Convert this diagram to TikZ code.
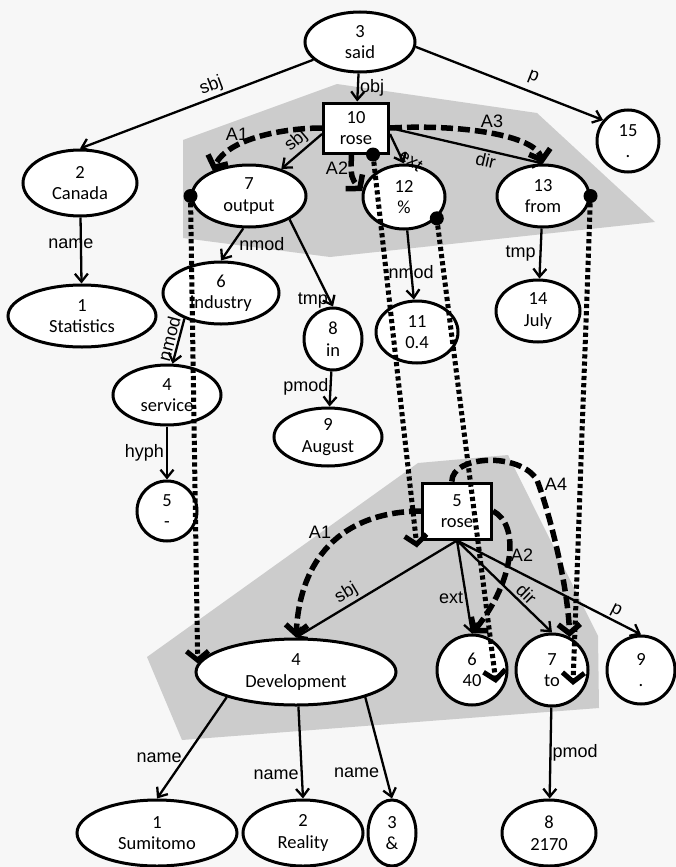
\documentclass[tikz,border=0pt]{standalone}
\usepackage{fontspec}
\setmainfont{Liberation Sans}
\newfontfamily\nodefont{Carlito}
\usetikzlibrary{shapes.geometric,arrows.meta,calc}
\definecolor{paper}{RGB}{247,247,247}
\definecolor{framegray}{RGB}{204,204,204}
\begin{document}
\begin{tikzpicture}[x=1pt,y=-1pt,
  wnode/.style={draw, line width=3pt, fill=white, inner sep=0pt, align=center,
                font=\nodefont\fontsize{18.5}{21.5}\selectfont},
  oval/.style={wnode, ellipse},
  box/.style={wnode, rectangle},
  dep/.style={line width=2.3pt, -{Straight Barb[length=8pt,width=13pt]}},
  lbl/.style={font=\fontsize{18}{20}\selectfont, inner sep=2pt},
  arg/.style={line width=5.5pt, dash pattern=on 12pt off 5pt,
              -{Straight Barb[length=9pt,width=22pt]}},
  link/.style={line width=5pt, dash pattern=on 4.2pt off 3pt,
               -{Straight Barb[length=9pt,width=22pt]}},
  anchordot/.style={circle, fill=black, minimum size=14pt, inner sep=0pt},
]
\useasboundingbox (0,0) rectangle (676,867);
\fill[paper] (0,0) rectangle (676,867);

% shaded regions of the two predicate frames
\fill[framegray] (183,140) -- (337,84) -- (537,113) -- (655,222) -- (330,257) -- (183,238) -- cycle;
\fill[framegray] (418,463) -- (508,455) -- (598,636) -- (599,708) -- (182,740) -- (147,657) -- cycle;

% upper tree
\node[oval, minimum width=110pt, minimum height=60pt] (said) at (360,42) {3\\said};
\node[box, minimum width=65pt, minimum height=50pt] (roseA) at (356,128) {10\\rose};
\node[oval, minimum size=62pt] (n15) at (628,141) {15\\.};
\node[oval, minimum width=114pt, minimum height=66pt] (canada) at (80,183) {2\\Canada};
\node[oval, minimum width=148pt, minimum height=62pt] (statistics) at (82,316) {1\\Statistics};
\node[oval, minimum width=114pt, minimum height=62pt] (output) at (249,196) {7\\output};
\node[oval, minimum width=82pt, minimum height=64pt] (pct) at (404,197) {12\\\%};
\node[oval, minimum width=92pt, minimum height=62pt] (from) at (543,196) {13\\from};
\node[oval, minimum width=116pt, minimum height=62pt] (industry) at (221,293) {6\\industry};
\node[oval, minimum width=58pt, minimum height=62pt] (in) at (333,339) {8\\in};
\node[oval, minimum width=82pt, minimum height=62pt] (frac) at (417,332) {11\\0.4};
\node[oval, minimum width=84pt, minimum height=62pt] (july) at (538,311) {14\\July};
\node[oval, minimum width=108pt, minimum height=60pt] (service) at (167,395) {4\\service};
\node[oval, minimum width=108pt, minimum height=58pt] (august) at (328,437) {9\\August};
\node[oval, minimum size=60pt] (hyphen) at (167,511) {5\\-};

% lower tree
\node[box, minimum width=69pt, minimum height=56pt] (roseB) at (457,511) {5\\rose};
\node[oval, minimum width=200pt, minimum height=66pt] (dev) at (296,672) {4\\Development};
\node[oval, minimum size=70pt] (forty) at (472,670) {6\\40};
\node[oval, minimum size=72pt] (to) at (552,670) {7\\to};
\node[oval, minimum size=68pt] (dot9) at (641,670) {9\\.};
\node[oval, minimum width=160pt, minimum height=66pt] (sumitomo) at (157,833) {1\\Sumitomo};
\node[oval, minimum width=120pt, minimum height=66pt] (reality) at (303,833) {2\\Reality};
\node[oval, minimum width=48pt, minimum height=66pt] (amp) at (392,833) {3\\\&};
\node[oval, minimum width=94pt, minimum height=66pt] (n2170) at (549,833) {8\\2170};

% dependency edges, upper tree
\draw[dep] (said) -- (canada.north) node[lbl, pos=0.42, above, sloped] {sbj};
\draw[dep] (said) -- (roseA) node[lbl, pos=0.5, right, inner sep=1pt] {obj};
\draw[dep] (said.-5) -- (n15.140) node[lbl, pos=0.6, above=4pt, sloped] {p};
\draw[dep] (roseA.190) -- (output.40) node[lbl, pos=0.45, above, sloped] {sbj};
\draw[dep] (roseA.-10) -- (pct.north) node[lbl, pos=0.6, right, rotate=-35] {ext};
\draw[dep] (roseA.east) -- (from.north) node[lbl, pos=0.64, below, sloped] {dir};
\draw[dep] (canada) -- (statistics) node[lbl, pos=0.4, xshift=-10pt] {name};
\draw[dep] (output.260) -- (industry.north) node[lbl, pos=0.5, right, xshift=4pt] {nmod};
\draw[dep] (output.-30) -- (in.north) node[lbl, pos=0.93, left, inner sep=1pt] {tmp};
\draw[dep] (in) -- (august) node[lbl, pos=0.45, left, inner sep=1pt] {pmod};
\draw[dep] (industry.215) -- (service.80) node[lbl, pos=0.5, above, sloped] {nmod};
\draw[dep] (service) -- (hyphen) node[lbl, pos=0.5, left] {hyph};
\draw[dep] (pct) -- (frac) node[lbl, pos=0.6] {nmod};
\draw[dep] (from) -- (july) node[lbl, pos=0.5, xshift=-20pt] {tmp};

% dependency edges, lower tree
\draw[dep] (roseB.south) -- (dev.north) node[lbl, pos=0.65, above, sloped] {sbj};
\draw[dep] (roseB.south) -- (forty.north) node[lbl, pos=0.62, left] {ext};
\draw[dep] (roseB.south) -- (to.north) node[lbl, pos=0.66, above, sloped] {dir};
\draw[dep] (roseB.south) -- (dot9.north) node[lbl, pos=0.84, above, sloped] {p};
\draw[dep] (dev.200) -- (sumitomo.north) node[lbl, pos=0.6, left] {name};
\draw[dep] (dev.-86) -- (reality.north) node[lbl, pos=0.74, left] {name};
\draw[dep] (dev.-20) -- (amp.north) node[lbl, pos=0.75, left, xshift=-3pt] {name};
\draw[dep] (to) -- (n2170) node[lbl, pos=0.5, right, inner sep=1pt] {pmod};

% alignment links between the two trees
\coordinate (l1s) at ($(roseA.south)!0.5!(roseA.south east)$);
\draw[link] (l1s) -- ([xshift=-4pt,yshift=-7pt]roseB.south west);
\draw[link] (pct.-33) -- ([shift={(24,13)}]forty.center);
\draw[link] (from.east) -- ([shift={(21,15)}]to.center);
\draw[link] (output.west) -- (dev.175);
\node[anchordot] (d1) at (l1s) {};
\node[anchordot] (d2) at (pct.-33) {};
\node[anchordot] (d3) at (from.east) {};
\node[anchordot] (d4) at (output.west) {};

% argument arcs, upper frame
\draw[arg] (roseA.west) .. controls (285,128) and (228,138) .. (output.145);
\draw[arg] (roseA.-100) .. controls (351,178) .. (pct.172);
\draw[arg] (roseA.east) .. controls (460,124) and (535,135) .. (from.north);
\node[lbl] (a1up) at (237,134) {A1};
\node[lbl] (a2up) at (337,168) {A2};
\node[lbl] (a3up) at (492,121) {A3};

% argument arcs, lower frame
\draw[arg] (roseB.west) .. controls (340,512) and (300,560) .. (dev.north);
\draw[arg] (roseB.east) .. controls (520,525) and (515,580) .. (forty.north);
\draw[arg] (roseB.100) .. controls (452,455) and (520,452) .. (537,480)
  .. controls (552,520) and (568,590) .. (to.62);
\node[lbl] (a1low) at (320,532) {A1};
\node[lbl] (a2low) at (522,555) {A2};
\node[lbl] (a4low) at (556,484) {A4};
\end{tikzpicture}
\end{document}
